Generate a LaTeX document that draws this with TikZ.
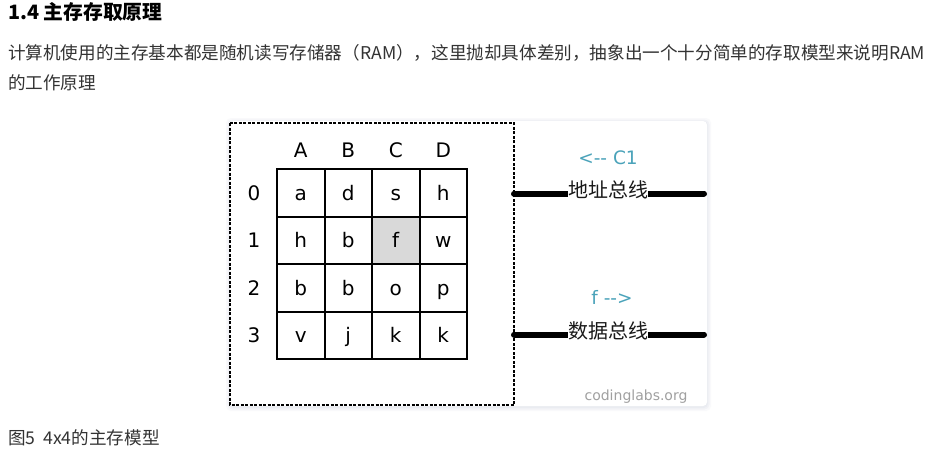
\documentclass[tikz,border=0pt]{standalone}
\usepackage{fontspec}
\setmainfont{Noto Sans CJK SC}
\newfontfamily\dvs{DejaVu Sans}
\definecolor{txt}{RGB}{51,51,51}
\definecolor{teal1}{RGB}{75,163,186}
\definecolor{cellgray}{RGB}{217,217,217}
\definecolor{mark}{RGB}{160,160,160}
\definecolor{shad}{RGB}{232,234,240}
\begin{document}
\begin{tikzpicture}[x=1pt,y=-1pt,
  para/.style={anchor=west,inner sep=0pt,text=txt,font=\fontsize{17.6}{17.6}\selectfont,text height=0.8em,text depth=0.1em},
  cell/.style={draw=black,line width=2pt,minimum size=47.5pt,inner sep=0pt,font=\dvs\fontsize{20}{20}\selectfont,text height=14.6pt,text depth=0pt},
  lbl/.style={inner sep=0pt,font=\dvs\fontsize{20}{20}\selectfont,text height=14.6pt,text depth=0pt},
  bus/.style={line width=6pt,line cap=round},
  buslbl/.style={fill=white,inner sep=0pt,text=black!90,font=\fontsize{20}{20}\selectfont,text height=0.8em,text depth=0.1em},
  dir/.style={inner sep=0pt,text=teal1,font=\dvs\fontsize{18.5}{18.5}\selectfont,text height=13.5pt,text depth=0pt}]
\useasboundingbox (0,0) rectangle (938,456);
\fill[white] (0,0) rectangle (938,456);
% title and paragraph
\node[para,font=\bfseries\fontsize{19.8}{19.8}\selectfont,text=black] (title) at (8,15.5) {1.4 主存存取原理};
\node[para] (p1) at (8,56) {计算机使用的主存基本都是随机读写存储器（RAM），这里抛却具体差别，抽象出一个十分简单的存取模型来说明RAM};
\node[para] (p2) at (8,86) {的工作原理};
\node[para] (cap) at (8,441) {图5\ \ 4x4的主存模型};
% card with shadow
\foreach \d/\o in {4/0.25,2.5/0.45,1.2/0.7}{
  \fill[shad,opacity=\o,rounded corners=5pt] (230-\d,121-\d+1) rectangle (707+\d,406+\d+1);
}
\fill[white,rounded corners=4pt] (230,121) rectangle (707,406);
% dashed frame
\draw[line width=1.6pt,dash pattern=on 3pt off 1.5pt] (230,123) rectangle (514,405);
% grid
\fill[cellgray] (372,216.5) rectangle (419.5,264);
\foreach \c/\cx in {A/300.75,B/348.25,C/395.75,D/443.25}{
  \node[lbl] (col\c) at (\cx,150) {\c};
}
\foreach \r/\ry in {0/192.75,1/240.25,2/287.75,3/335.25}{
  \node[lbl] (row\r) at (254,\ry) {\r};
}
\foreach \r/\ry/\a/\b/\cc/\dd in {0/192.75/a/d/s/h,1/240.25/h/b/f/w,2/287.75/b/b/o/p,3/335.25/v/j/k/k}{
  \node[cell] (A\r) at (300.75,\ry) {\a};
  \node[cell] (B\r) at (348.25,\ry) {\b};
  \node[cell] (C\r) at (395.75,\ry) {\cc};
  \node[cell] (D\r) at (443.25,\ry) {\dd};
}
% buses
\coordinate (abL) at (514,193.5);
\coordinate (abR) at (704,193.5);
\coordinate (dbL) at (514,334.5);
\coordinate (dbR) at (704,334.5);
\draw[bus] (abL) -- (abR);
\draw[bus] (dbL) -- (dbR);
\node[buslbl] (ab) at (608,193.5) {地址总线};
\node[buslbl] (db) at (608,334.5) {数据总线};
\node[dir] (c1) at (608,158) {<-- C1};
\node[dir] (fv) at (612,298) {f -->};
\node[inner sep=0pt,text=mark,font=\dvs\fontsize{14}{14}\selectfont] (site) at (636,397) {codinglabs.org};
\end{tikzpicture}
\end{document}
